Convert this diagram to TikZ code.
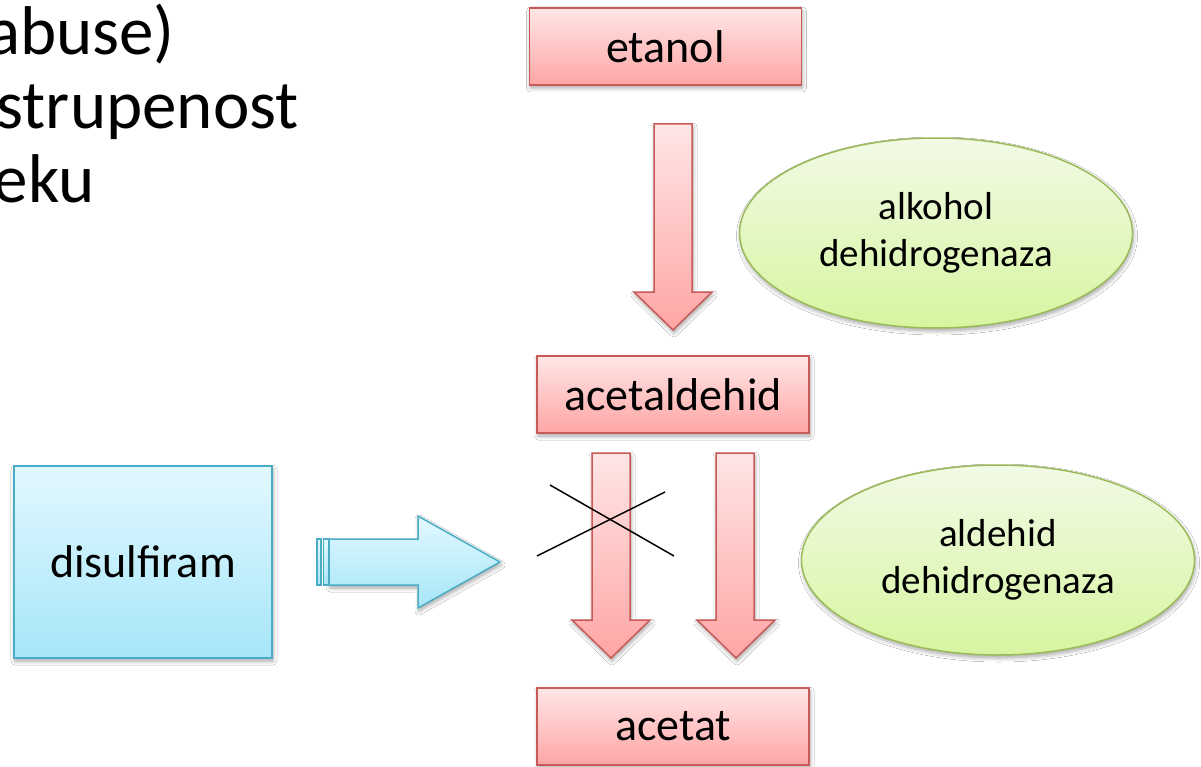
\documentclass[tikz,border=0pt]{standalone}
\usepackage{fontspec}
\setmainfont{Carlito}
\usetikzlibrary{shadows.blur,shapes.geometric}
\definecolor{redline}{HTML}{C85A57}
\definecolor{redtop}{HTML}{FFE6E6}
\definecolor{redbot}{HTML}{FFA5A5}
\definecolor{blueline}{HTML}{4BACC6}
\definecolor{bluetop}{HTML}{E2F8FF}
\definecolor{bluebot}{HTML}{A6E6F8}
\definecolor{greenline}{HTML}{9BBB59}
\definecolor{greentop}{HTML}{F2FAE6}
\definecolor{greenbot}{HTML}{D6F5A0}
\tikzset{
  shad/.style={blur shadow={shadow blur steps=6, shadow xshift=1pt, shadow yshift=-3pt, shadow opacity=35, shadow blur radius=4pt}},
  redbox/.style={draw=redline, line width=1.5pt, top color=redtop, bottom color=redbot,
    minimum width=272pt, minimum height=77pt, inner sep=0pt, font=\fontsize{46}{55}\selectfont, shad},
  bluebox/.style={draw=blueline, line width=1.5pt, top color=bluetop, bottom color=bluebot,
    minimum width=258pt, minimum height=192pt, inner sep=0pt, font=\fontsize{46}{55}\selectfont, shad},
  enzyme/.style={ellipse, draw=greenline, line width=1.5pt, top color=greentop, bottom color=greenbot,
    minimum width=393pt, minimum height=190pt, inner sep=0pt, align=center, font=\fontsize{39}{47}\selectfont, shad},
  redarrow/.style={draw=redline, line width=1.5pt, top color=redtop, bottom color=redbot, line join=miter, shad},
  bluearrow/.style={draw=blueline, line width=1.5pt, top color=bluetop, bottom color=bluebot, line join=miter},
  bigtext/.style={anchor=base east, inner sep=0pt, font=\fontsize{69}{76}\selectfont},
  cross/.style={draw=black, line width=1.5pt}
}
\begin{document}
\begin{tikzpicture}[x=1pt,y=-1pt]
\clip (0,0) rectangle (1201,767);
\fill[white] (0,0) rectangle (1201,767);

% left text (cut off at the left edge, as in the reference)
\node[bigtext] (t1) at (175,55) {abuse)};
\node[bigtext] (t2) at (299,129) {strupenost};
\node[bigtext] (t3) at (95,203) {eku};

% boxes
\node[redbox] (etanol) at (665.5,46.5) {etanol};
\node[redbox] (acetaldehid) at (673,394.5) {acetaldehid};
\node[redbox] (acetat) at (673,726.5) {acetat};
\node[bluebox] (disulfiram) at (143,562) {disulfiram};

% enzymes
\node[enzyme] (adh) at (936,233) {alkohol\\dehidrogenaza};
\node[enzyme] (aldh) at (998,560) {aldehid\\dehidrogenaza};

% red block arrows
\path[redarrow] (654,124) -- (692,124) -- (692,292) -- (712,292) -- (673,330) -- (634,292) -- (654,292) -- cycle;
\path[redarrow] (592,453) -- (630,453) -- (630,620) -- (650,620) -- (611,658) -- (572,620) -- (592,620) -- cycle;
\path[redarrow] (716,453) -- (754,453) -- (754,620) -- (775,620) -- (736,658) -- (697,620) -- (716,620) -- cycle;

% cross
\draw[cross] (550,485) -- (674,556);
\draw[cross] (537,556) -- (665,492);

% blue striped arrow
\path[bluearrow, shad] (329,539) -- (418,539) -- (418,516) -- (500,562) -- (418,608) -- (418,585) -- (329,585) -- cycle;
\path[bluearrow] (317,539) rectangle (321,585);
\path[bluearrow] (323.5,539) rectangle (329,585);
\end{tikzpicture}
\end{document}
